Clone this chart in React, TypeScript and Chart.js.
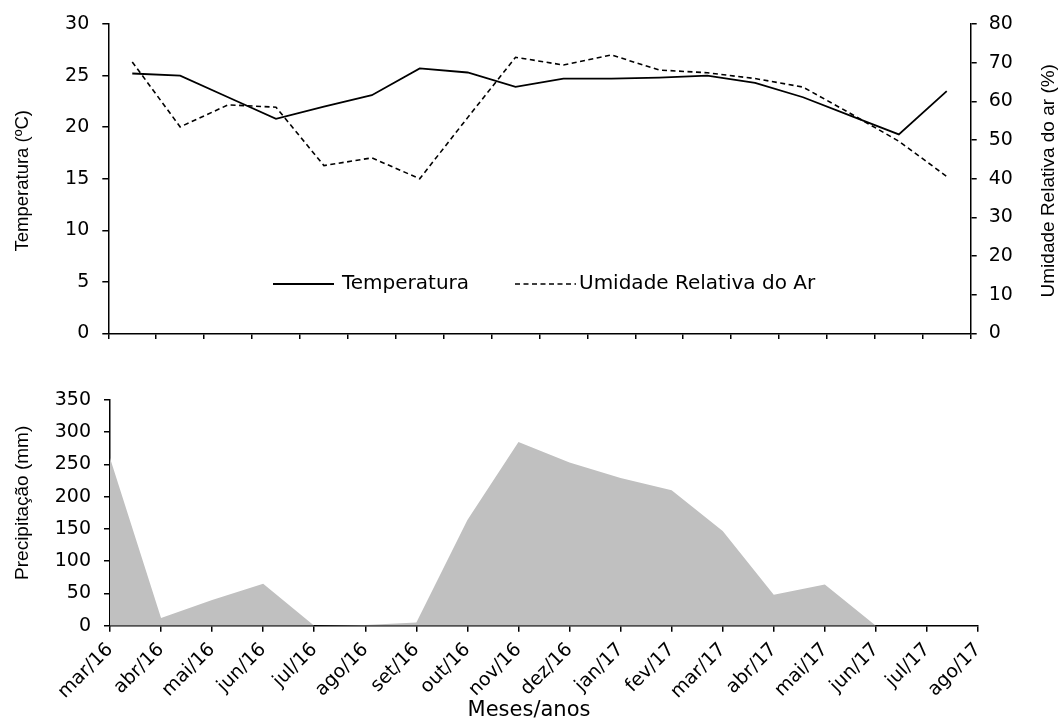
import React, { useEffect, useRef } from "react";
import { Chart, registerables } from "chart.js";

Chart.register(...registerables);

// ---------- data ----------
const months = [
  "mar/16", "abr/16", "mai/16", "jun/16", "jul/16", "ago/16", "set/16", "out/16", "nov/16",
  "dez/16", "jan/17", "fev/17", "mar/17", "abr/17", "mai/17", "jun/17", "jul/17", "ago/17",
];
const temperatura = [25.2, 25.0, 22.9, 20.8, 22.0, 23.1, 25.7, 25.3, 23.9, 24.7, 24.7, 24.8, 25.0, 24.3, 22.9, 21.1, 19.3, 23.5];
const umidade = [70.2, 53.4, 59.1, 58.5, 43.4, 45.4, 40.0, 55.8, 71.4, 69.4, 72.0, 68.1, 67.4, 65.9, 63.7, 56.8, 49.7, 40.6];
const precipitacao = [260, 12, 40, 65, 0, 1, 5, 164, 285, 253, 229, 210, 147, 48, 64, 0, 0, 0];

const tempRange = [0, 30, 5];
const umidRange = [0, 80, 10];
const precRange = [0, 350, 50];

const seriesLabels = ["Temperatura", "Umidade Relativa do Ar"];
const titleTemp = "Temperatura (ºC)";
const titleUmid = "Umidade Relativa do ar (%)";
const titlePrec = "Precipitação (mm)";
const titleMeses = "Meses/anos";

// ---------- styles ----------
const TICK_FONT = { family: "'DejaVu Sans', sans-serif", size: 19 };
const BLACK = "#000000";
const AXIS_W = 1.5;

type TextItem = { text: string; x: number; y: number; rot: number; font: string };

const textPlugin = {
  id: "extraTexts",
  afterDraw(chart: any, _args: any, opts: any) {
    const items: TextItem[] = (opts && opts.items ? opts.items(chart) : []) || [];
    const ctx = chart.ctx;
    items.forEach((it) => {
      ctx.save();
      ctx.fillStyle = BLACK;
      ctx.font = it.font;
      ctx.textAlign = "center";
      ctx.textBaseline = "middle";
      ctx.translate(it.x, it.y);
      ctx.rotate(it.rot);
      ctx.fillText(it.text, 0, 0);
      ctx.restore();
    });
  },
};

const legendPlugin = {
  id: "inlineLegend",
  afterDraw(chart: any) {
    const ctx = chart.ctx;
    const y = 284;
    const entries = [
      { ds: 0, x0: 273, x1: 334, tx: 342 },
      { ds: 1, x0: 515, x1: 576, tx: 579 },
    ];
    entries.forEach((e) => {
      const ds = chart.data.datasets[e.ds];
      ctx.save();
      ctx.strokeStyle = ds.borderColor;
      ctx.lineWidth = ds.borderWidth;
      ctx.setLineDash(ds.borderDash || []);
      ctx.beginPath();
      ctx.moveTo(e.x0, y);
      ctx.lineTo(e.x1, y);
      ctx.stroke();
      ctx.setLineDash([]);
      ctx.fillStyle = BLACK;
      ctx.font = "20px 'DejaVu Sans', sans-serif";
      ctx.textAlign = "left";
      ctx.textBaseline = "middle";
      ctx.fillText(ds.label, e.tx, y);
      ctx.restore();
    });
  },
};

const axisGrid = { drawOnChartArea: false, drawTicks: true, tickLength: 6, color: BLACK, lineWidth: AXIS_W };
const axisBorder = { display: true, color: BLACK, width: AXIS_W };

export default function App() {
  const topRef = useRef<HTMLCanvasElement | null>(null);
  const botRef = useRef<HTMLCanvasElement | null>(null);

  useEffect(() => {
    const top = new Chart(topRef.current as HTMLCanvasElement, {
      type: "line",
      data: {
        labels: months,
        datasets: [
          {
            label: seriesLabels[0],
            data: temperatura,
            yAxisID: "y",
            borderColor: BLACK,
            borderWidth: 1.8,
            pointRadius: 0,
            tension: 0,
            fill: false,
          },
          {
            label: seriesLabels[1],
            data: umidade,
            yAxisID: "y1",
            borderColor: BLACK,
            borderWidth: 1.6,
            borderDash: [5, 3.5],
            pointRadius: 0,
            tension: 0,
            fill: false,
          },
        ],
      },
      options: {
        animation: false,
        responsive: false,
        devicePixelRatio: 1,
        layout: { padding: { top: 24, left: 0, right: 0, bottom: 0 } },
        plugins: {
          legend: { display: false },
          tooltip: { enabled: false },
          extraTexts: {
            items: (c: any) => {
              const a = c.chartArea;
              const cy = (a.top + a.bottom) / 2;
              return [
                { text: titleTemp, x: 23, y: cy + 2, rot: -Math.PI / 2, font: "18.5px 'Liberation Sans', Arial, sans-serif" },
                { text: titleUmid, x: 1049, y: cy + 2, rot: -Math.PI / 2, font: "19px 'Liberation Sans', Arial, sans-serif" },
              ];
            },
          },
        } as any,
        scales: {
          x: {
            type: "category",
            offset: true,
            grid: { ...axisGrid, offset: true },
            border: axisBorder,
            ticks: { display: false },
            afterFit: (s: any) => {
              s.height = 5.5;
              s.paddingLeft = 0;
              s.paddingRight = 0;
            },
          },
          y: {
            position: "left",
            min: tempRange[0],
            max: tempRange[1],
            grid: axisGrid,
            border: axisBorder,
            ticks: { stepSize: tempRange[2], color: BLACK, font: TICK_FONT, padding: 13 },
            afterFit: (s: any) => {
              s.width = 108.3;
              s.paddingTop = 0;
              s.paddingBottom = 0;
            },
          },
          y1: {
            position: "right",
            min: umidRange[0],
            max: umidRange[1],
            grid: axisGrid,
            border: axisBorder,
            ticks: { stepSize: umidRange[2], color: BLACK, font: TICK_FONT, padding: 12 },
            afterFit: (s: any) => {
              s.width = 91.3;
              s.paddingTop = 0;
              s.paddingBottom = 0;
            },
          },
        },
      } as any,
      plugins: [textPlugin, legendPlugin],
    });

    const bot = new Chart(botRef.current as HTMLCanvasElement, {
      type: "line",
      data: {
        labels: months,
        datasets: [
          {
            label: "Precipitação",
            data: precipitacao,
            borderColor: "#c0c0c0",
            backgroundColor: "#c0c0c0",
            borderWidth: 0,
            pointRadius: 0,
            tension: 0,
            fill: "origin",
          },
        ],
      },
      options: {
        animation: false,
        responsive: false,
        devicePixelRatio: 1,
        layout: { padding: { top: 61, left: 0, right: 84, bottom: 0 } },
        plugins: {
          legend: { display: false },
          tooltip: { enabled: false },
          extraTexts: {
            items: (c: any) => {
              const a = c.chartArea;
              const cy = (a.top + a.bottom) / 2;
              return [
                { text: titlePrec, x: 23, y: cy - 10, rot: -Math.PI / 2, font: "19px 'Liberation Sans', Arial, sans-serif" },
                { text: titleMeses, x: 529, y: 372, rot: 0, font: "21px 'DejaVu Sans', sans-serif" },
              ];
            },
          },
        } as any,
        scales: {
          x: {
            type: "category",
            offset: false,
            grid: axisGrid,
            border: axisBorder,
            ticks: {
              color: BLACK,
              font: TICK_FONT,
              autoSkip: false,
              minRotation: 45,
              maxRotation: 45,
              padding: 7,
            },
            afterFit: (s: any) => {
              s.height = 94.3;
              s.paddingLeft = 0;
              s.paddingRight = 0;
            },
          },
          y: {
            position: "left",
            min: precRange[0],
            max: precRange[1],
            grid: axisGrid,
            border: axisBorder,
            ticks: { stepSize: precRange[2], color: BLACK, font: TICK_FONT, padding: 13 },
            afterFit: (s: any) => {
              s.width = 110;
              s.paddingTop = 0;
              s.paddingBottom = 0;
            },
          },
        },
      } as any,
      plugins: [textPlugin],
    });

    return () => {
      top.destroy();
      bot.destroy();
    };
  }, []);

  return (
    <div style={{ position: "absolute", left: 0, top: 0, width: 1062, height: 720, background: "#fff" }}>
      <canvas ref={topRef} width={1062} height={339} style={{ position: "absolute", left: 0, top: 0, width: 1062, height: 339 }} />
      <canvas ref={botRef} width={1062} height={381} style={{ position: "absolute", left: 0, top: 339, width: 1062, height: 381 }} />
    </div>
  );
}
